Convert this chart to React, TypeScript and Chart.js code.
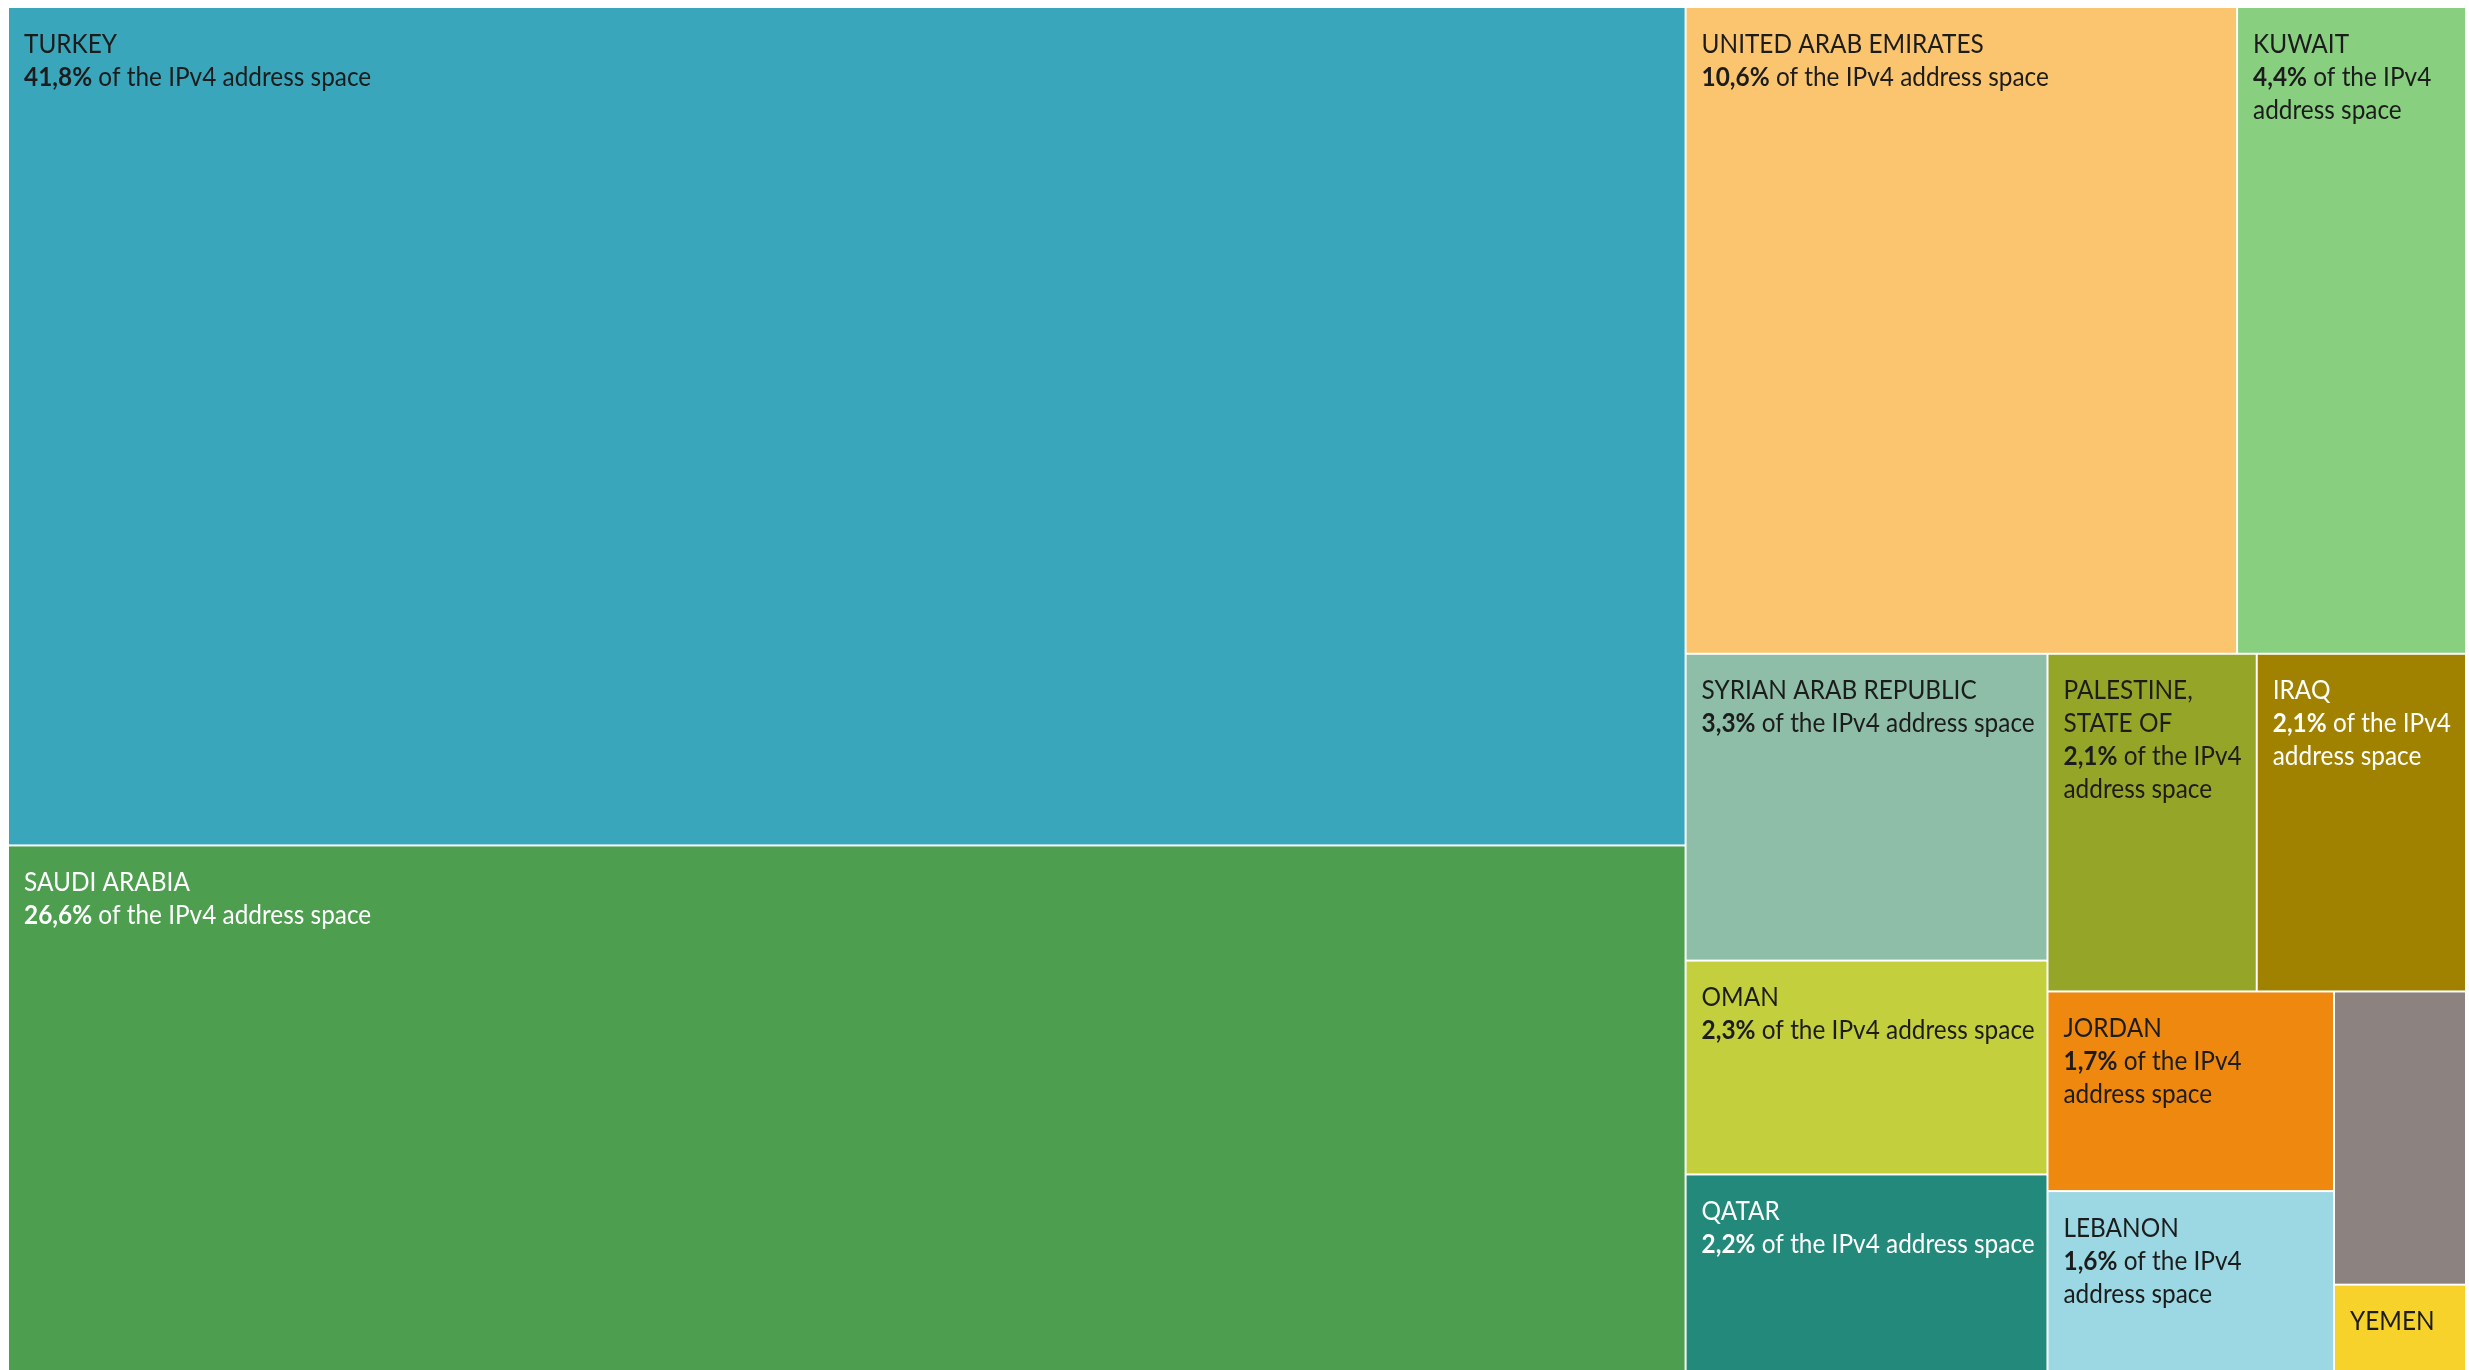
import React, { useEffect, useRef } from 'react';
import { Chart, registerables } from 'chart.js';

Chart.register(...registerables);

// ---- data ----
const COUNTRIES = [
  'TURKEY',
  'SAUDI ARABIA',
  'UNITED ARAB EMIRATES',
  'KUWAIT',
  'SYRIAN ARAB REPUBLIC',
  'OMAN',
  'QATAR',
  'PALESTINE, STATE OF',
  'IRAQ',
  'JORDAN',
  'LEBANON',
  '', // unlabeled (grey) cell
  'YEMEN',
];
const SHARES = [41.8, 26.6, 10.6, 4.4, 3.3, 2.3, 2.2, 2.1, 2.1, 1.7, 1.6, 1.15, 0.37];
const LABEL_SUFFIX = 'of the IPv4 address space';

// ---- styles ----
const COLORS = [
  '#3AA6BB', '#4E9E4F', '#FAC56E', '#88D07F', '#8EBEA8', '#C3CF3C', '#23897B',
  '#95A527', '#A08200', '#EF880F', '#9BD8E3', '#8C8280', '#F6D22B',
];
const DARK = '#1c1c1c';
const LIGHT = '#ffffff';
const TEXT_COLORS = [DARK, LIGHT, DARK, DARK, DARK, DARK, LIGHT, DARK, LIGHT, DARK, DARK, DARK, DARK];

// ---- treemap structure (nesting / split direction only; sizes come from SHARES) ----
type Node = { dir: 'h' | 'v'; items: (Node | number)[] };
const LAYOUT: Node = {
  dir: 'h',
  items: [
    { dir: 'v', items: [0, 1] },
    {
      dir: 'v',
      items: [
        { dir: 'h', items: [2, 3] },
        {
          dir: 'h',
          items: [
            { dir: 'v', items: [4, 5, 6] },
            {
              dir: 'v',
              items: [
                { dir: 'h', items: [7, 8] },
                {
                  dir: 'h',
                  items: [
                    { dir: 'v', items: [9, 10] },
                    { dir: 'v', items: [11, 12] },
                  ],
                },
              ],
            },
          ],
        },
      ],
    },
  ],
};

type Cell = { i: number; x0: number; y0: number; x1: number; y1: number };

function total(n: Node | number): number {
  return typeof n === 'number' ? SHARES[n] : n.items.reduce((s, c) => s + total(c), 0);
}

function layoutTree(n: Node | number, x0: number, y0: number, x1: number, y1: number, out: Cell[]) {
  if (typeof n === 'number') {
    out.push({ i: n, x0, y0, x1, y1 });
    return;
  }
  const t = total(n);
  let pos = n.dir === 'h' ? x0 : y0;
  for (const c of n.items) {
    const f = total(c) / t;
    if (n.dir === 'h') {
      const w = (x1 - x0) * f;
      layoutTree(c, pos, y0, pos + w, y1, out);
      pos += w;
    } else {
      const h = (y1 - y0) * f;
      layoutTree(c, x0, pos, x1, pos + h, out);
      pos += h;
    }
  }
}

const FONT_SIZE = 26.5;
const SX = 0.92; // horizontal condensation to mimic a narrower UI face
const FAMILY = 'Lato, "Open Sans", sans-serif';
const REG = `${FONT_SIZE}px ${FAMILY}`;
const BOLD = `bold ${FONT_SIZE}px ${FAMILY}`;
const PAD_L = 16;
const PAD_R = 8;
const FIRST_BASELINE = 45.5;
const LINE_H = 33;

type Word = { t: string; bold: boolean };

function wrap(ctx: CanvasRenderingContext2D, words: Word[], maxW: number): Word[][] {
  ctx.font = REG;
  const space = ctx.measureText(' ').width * SX;
  const lines: Word[][] = [];
  let cur: Word[] = [];
  let curW = 0;
  for (const w of words) {
    ctx.font = w.bold ? BOLD : REG;
    const ww = ctx.measureText(w.t).width * SX;
    if (cur.length && curW + space + ww > maxW) {
      lines.push(cur);
      cur = [w];
      curW = ww;
    } else {
      curW += (cur.length ? space : 0) + ww;
      cur.push(w);
    }
  }
  if (cur.length) lines.push(cur);
  return lines;
}

function drawLine(ctx: CanvasRenderingContext2D, line: Word[], x: number, y: number) {
  ctx.save();
  ctx.translate(x, y);
  ctx.scale(SX, 1);
  ctx.font = REG;
  const space = ctx.measureText(' ').width;
  let cx = 0;
  line.forEach((w, k) => {
    ctx.font = w.bold ? BOLD : REG;
    ctx.fillText(w.t, cx, 0);
    cx += ctx.measureText(w.t).width + (k < line.length - 1 ? space : 0);
  });
  ctx.restore();
}

const treemapPlugin = {
  id: 'treemapCells',
  afterDatasetsDraw(chart: any) {
    const { ctx } = chart;
    const xs = chart.scales.x;
    const ys = chart.scales.y;
    const cells: Cell[] = [];
    layoutTree(LAYOUT, 0, 0, 1, 1, cells);
    ctx.save();
    for (const c of cells) {
      const px0 = xs.getPixelForValue(c.x0);
      const px1 = xs.getPixelForValue(c.x1);
      const py0 = ys.getPixelForValue(c.y0);
      const py1 = ys.getPixelForValue(c.y1);
      ctx.fillStyle = COLORS[c.i];
      ctx.fillRect(px0 + 1, py0 + 1, px1 - px0 - 2, py1 - py0 - 2);

      const name = COUNTRIES[c.i];
      if (!name) continue;
      const maxW = px1 - px0 - PAD_L - PAD_R;
      const tx = px0 + PAD_L;
      ctx.fillStyle = TEXT_COLORS[c.i];
      ctx.textBaseline = 'alphabetic';
      ctx.textAlign = 'left';
      const nameLines = wrap(ctx, name.split(' ').map((t) => ({ t, bold: false })), maxW);
      let y = py0 + FIRST_BASELINE;
      for (const l of nameLines) {
        drawLine(ctx, l, tx, y);
        y += LINE_H;
      }
      const pct = SHARES[c.i].toFixed(1).replace('.', ',') + '%';
      const pctWords: Word[] = [{ t: pct, bold: true }, ...LABEL_SUFFIX.split(' ').map((t) => ({ t, bold: false }))];
      const pctLines = wrap(ctx, pctWords, maxW);
      const lastBaseline = y + (pctLines.length - 1) * LINE_H;
      if (lastBaseline + 8 <= py1) {
        for (const l of pctLines) {
          drawLine(ctx, l, tx, y);
          y += LINE_H;
        }
      }
    }
    ctx.restore();
  },
};

export default function App() {
  const ref = useRef<HTMLCanvasElement | null>(null);
  useEffect(() => {
    if (!ref.current) return;
    const chart = new Chart(ref.current, {
      type: 'scatter',
      data: { datasets: [] },
      options: {
        animation: false,
        responsive: true,
        maintainAspectRatio: false,
        layout: { padding: 0 },
        events: [],
        plugins: { legend: { display: false }, tooltip: { enabled: false }, title: { display: false } },
        scales: {
          x: { type: 'linear', min: 0, max: 1, display: false },
          y: { type: 'linear', min: 0, max: 1, reverse: true, display: false },
        },
      },
      plugins: [treemapPlugin],
    });
    return () => chart.destroy();
  }, []);
  return (
    <div style={{ position: 'fixed', left: 8, top: 7, width: 2458, height: 1372, background: '#ffffff' }}>
      <canvas ref={ref} />
    </div>
  );
}
